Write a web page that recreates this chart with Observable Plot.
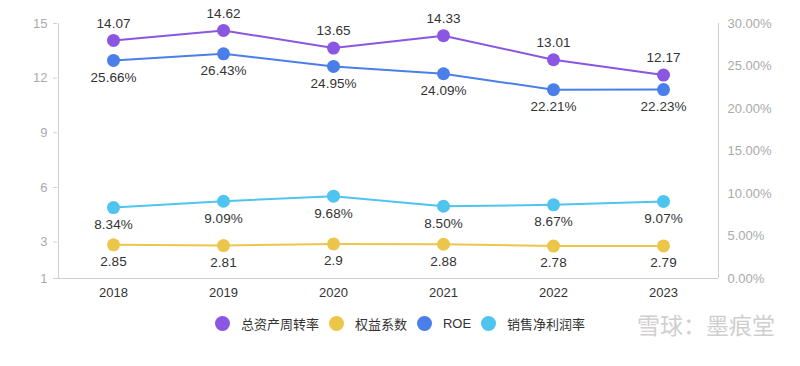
<!DOCTYPE html>
<html><head><meta charset="utf-8">
<script src="https://cdn.jsdelivr.net/npm/d3@7"></script>
<script src="https://cdn.jsdelivr.net/npm/@observablehq/plot@0.6"></script>
<style>
body{margin:0;background:#fff;font-family:"Liberation Sans","Noto Sans CJK SC",sans-serif;}
#wrap{position:relative;width:800px;height:366px;}
#legend{position:absolute;left:0;top:314px;width:800px;display:flex;justify-content:center;align-items:center;font-size:13px;color:#333;font-family:"Liberation Sans","Noto Sans CJK SC",sans-serif;}
.item{display:flex;align-items:center;margin:0 5px;}
.dot{width:15px;height:15px;border-radius:50%;margin-right:11px;}
#wm{position:absolute;left:637px;top:307px;font-size:23px;color:#cfcfcf;font-family:"Noto Sans CJK SC",sans-serif;letter-spacing:0px;}
</style></head>
<body><div id="wrap"><div id="chart"></div><div id="legend"></div><div id="wm">雪球：墨痕堂</div></div>
<script>
const years = ["2018","2019","2020","2021","2022","2023"];
const turnover = [14.07,14.62,13.65,14.33,13.01,12.17];     // 总资产周转率 (left axis)
const equityMult = [2.85,2.81,2.9,2.88,2.78,2.79];          // 权益系数 (left axis)
const roe = [25.66,26.43,24.95,24.09,22.21,22.23];          // ROE % (right axis)
const netMargin = [8.34,9.09,9.68,8.50,8.67,9.07];          // 销售净利润率 % (right axis)
const leftTicks = [1,3,6,9,12,15];
const rightTicks = [0,5,10,15,20,25,30];
const seriesNames = ["总资产周转率","权益系数","ROE","销售净利润率"];
const colors = ["#8a56e2","#ecc64b","#4a7fea","#4ec4ef"];

// right axis 0..30% mapped onto left 1..15
const toLeft = p => 1 + p * 14 / 30;
const toPct = v => (v - 1) * 30 / 14;

const mk = (vals, name, pct) => years.map((y,i)=>({year:y, v: pct ? toLeft(vals[i]) : vals[i], label: pct ? vals[i].toFixed(2)+"%" : String(vals[i]), name}));
const s1 = mk(turnover, seriesNames[0], false);
const s2 = mk(equityMult, seriesNames[1], false);
const s3 = mk(roe, seriesNames[2], true);
const s4 = mk(netMargin, seriesNames[3], true);

const font = "Liberation Sans, Noto Sans CJK SC, sans-serif";
const lineSet = (data, color, dy) => [
  Plot.line(data, {x:"year", y:"v", stroke:color, strokeWidth:2}),
  Plot.dot(data, {x:"year", y:"v", r:6.5, fill:color}),
  Plot.text(data, {x:"year", y:"v", text:"label", dy, fontSize:13.5, fill:"#333", fontFamily:font})
];

const chart = Plot.plot({
  width:800, height:300,
  marginLeft:57, marginRight:82, marginTop:23, marginBottom:22,
  style:{fontFamily:font, background:"#fff"},
  x:{type:"band", domain:years, padding:0, label:null},
  y:{domain:[1,15], label:null},
  marks:[
    Plot.ruleY([1], {stroke:"#cfcfcf", strokeWidth:1}),
    Plot.ruleX(years.slice(0,5), {x:"", y1:1, y2:1, dx:55, insetBottom:-5, stroke:"#cfcfcf"}),
    Plot.axisX({tickSize:0, tickPadding:9, fontSize:13, color:"#333", label:null}),
    Plot.axisY(leftTicks, {anchor:"left", tickSize:4, tickPadding:6, fontSize:13, color:"#aaa", stroke:"#cfcfcf", label:null}),
    Plot.axisY(rightTicks.map(toLeft), {anchor:"right", tickSize:0, tickPadding:9, fontSize:13, color:"#aaa", label:null, tickFormat: d => toPct(d).toFixed(2)+"%"}),
    Plot.ruleX([years[0]], {y1:1, y2:15, dx:-55, stroke:"#cfcfcf"}),
    Plot.ruleX([years[5]], {y1:1, y2:15, dx:55, stroke:"#cfcfcf"}),
    ...lineSet(s2, colors[1], 17),
    ...lineSet(s4, colors[3], 17),
    ...lineSet(s3, colors[2], 17),
    ...lineSet(s1, colors[0], -17)
  ]
});
document.getElementById("chart").appendChild(chart);

const lg = document.getElementById("legend");
seriesNames.forEach((n,i)=>{
  const it = document.createElement("div"); it.className="item";
  const d = document.createElement("div"); d.className="dot"; d.style.background=colors[i];
  const t = document.createElement("span"); t.textContent=n;
  it.appendChild(d); it.appendChild(t); lg.appendChild(it);
});
</script></body></html>
